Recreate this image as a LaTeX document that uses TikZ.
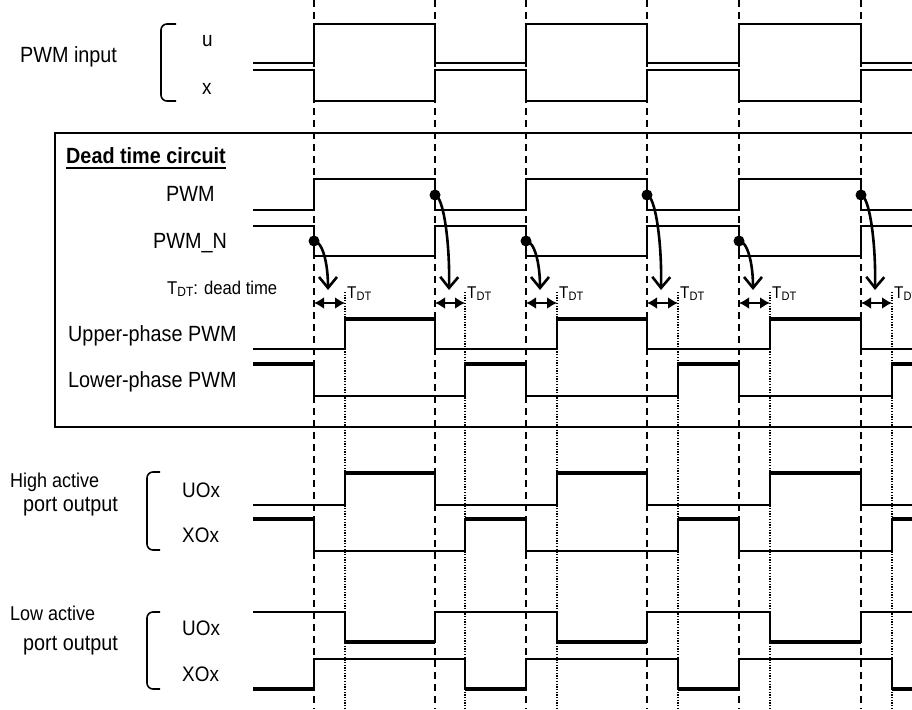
\documentclass[tikz,border=0pt]{standalone}
\usepackage{fontspec}
\setmainfont{Liberation Sans}[FakeStretch=0.9]
\usetikzlibrary{arrows.meta}
\newcommand{\Tdt}{T\raisebox{-0.3ex}{\scalebox{0.72}{DT}}}

\begin{document}
\begin{tikzpicture}[x=1pt, y=-1pt,
    wave/.style={line width=1.8pt},
    hiwave/.style={line width=3.6pt},
    gridline/.style={line width=1.6pt, dash pattern=on 7pt off 5pt},
    dtline/.style={line width=1.4pt, dash pattern=on 1.3pt off 1.4pt},
    frame/.style={line width=2.2pt},
    bracketline/.style={line width=1.6pt, rounded corners=6pt},
    lbl/.style={inner sep=0pt, anchor=base west, font=\fontsize{22}{26}\selectfont},
    midlbl/.style={inner sep=0pt, anchor=base west, font=\fontsize{21}{25}\selectfont},
    sidelbl/.style={inner sep=0pt, anchor=base west, font=\fontsize{20}{24}\selectfont},
    dtlbl/.style={inner sep=0pt, anchor=base west, font=\fontsize{17}{20}\selectfont},
    edgedot/.style={circle, fill, inner sep=0pt, minimum size=11pt},
    trigarrow/.style={line width=2.6pt, -{Straight Barb[length=11pt, width=18pt]}},
    dtarrow/.style={line width=2.4pt, {Latex[length=10pt, width=12pt]}-{Latex[length=10pt, width=12pt]}}]
    \clip (0,0) rectangle (912,709);

    % PWM input
    \node[lbl] (pwmin) at (20,63) {PWM input};
    \draw[bracketline] (176,24) -| (161,101) -- (176,101);
    \node[midlbl] (inu) at (202,47) {u};
    \node[midlbl] (inx) at (202,94) {x};
    \foreach \lo/\hi in {63/24, 70/101, 210/179, 226/256}
        \draw[wave] (253,\lo) -| (314,\hi) -| (435,\lo) -| (526,\hi) -| (647,\lo)
            -| (739,\hi) -| (861,\lo) -- (912,\lo);

    % Dead time circuit
    \draw[frame] (930,133) -| (55,427) -- (930,427);
    \node[lbl, font=\fontsize{22}{26}\selectfont\bfseries] (title) at (66,163) {Dead time circuit};
    \draw[line width=2.4pt] (title.base west) ++(0,5) -- ([yshift=-5pt]title.base east);
    \node[lbl] (pwm) at (166,201) {PWM};
    \node[lbl] (pwmn) at (153,248) {PWM\_N};
    \node[dtlbl, font=\fontsize{18.5}{22}\selectfont] (dtkey) at (167,294) {\Tdt: dead time};
    \node[lbl] (upper) at (68,341) {Upper-phase PWM};
    \node[lbl] (lower) at (68,387) {Lower-phase PWM};

    % High active / low active port output
    \node[sidelbl] (hact) at (10,487) {High active};
    \node[lbl] (hport) at (23,511) {port output};
    \draw[bracketline] (160,472) -| (147,550) -- (160,550);
    \node[midlbl] (hu) at (182,497) {UOx};
    \node[midlbl] (hx) at (182,542) {XOx};
    \node[sidelbl] (lact) at (10,620) {Low active};
    \node[lbl] (lport) at (23,650) {port output};
    \draw[bracketline] (160,612) -| (147,689) -- (160,689);
    \node[midlbl] (lu) at (182,635) {UOx};
    \node[midlbl] (lx) at (182,681) {XOx};

    % upper side outputs (a: idle, b: active)
    \foreach \a/\b in {349/319, 505/473, 612/642}{
        \draw[wave] (253,\a) -| (345,\b) -| (435,\a) -| (557,\b) -| (647,\a)
            -| (770,\b) -| (861,\a) -- (912,\a);
        \foreach \s/\e in {345/435, 557/647, 770/861}
            \draw[hiwave] (\s,\b) -- (\e,\b);
    }
    % lower side outputs
    \foreach \a/\c in {364/396, 519/551, 689/659}{
        \draw[wave] (253,\a) -| (314,\c) -| (465,\a) -| (526,\c) -| (678,\a)
            -| (739,\c) -| (892,\a) -- (912,\a);
        \foreach \s/\e in {253/314, 465/526, 678/739, 892/912}
            \draw[hiwave] (\s,\a) -- (\e,\a);
    }

    % edges and dead time
    \foreach \a/\b in {314/345, 435/465, 526/557, 647/678, 739/770, 861/892}{
        \draw[gridline] (\a,0) -- (\a,709);
        \draw[dtline] (\b,292) -- (\b,709);
        \coordinate (ta\a) at (\a,303);
        \coordinate (tb\a) at (\b,303);
        \draw[dtarrow] (ta\a) -- (tb\a);
        \node[dtlbl] (dt\a) at (\b+2,298) {\Tdt};
    }

    % PWM_N falls -> upper side on
    \foreach \r in {314,526,739}{
        \coordinate (nt\r) at (\r+14,290);
        \draw[trigarrow] (\r,241) .. controls +(8,0) and +(0,-28) .. (nt\r);
        \node[edgedot] (nd\r) at (\r,241) {};
    }
    % PWM falls -> lower side on
    \foreach \f in {435,647,861}{
        \coordinate (pt\f) at (\f+14,290);
        \draw[trigarrow] (\f,195) .. controls +(8,1) and +(1,-50) .. (pt\f);
        \node[edgedot] (pd\f) at (\f,195) {};
    }
\end{tikzpicture}
\end{document}
